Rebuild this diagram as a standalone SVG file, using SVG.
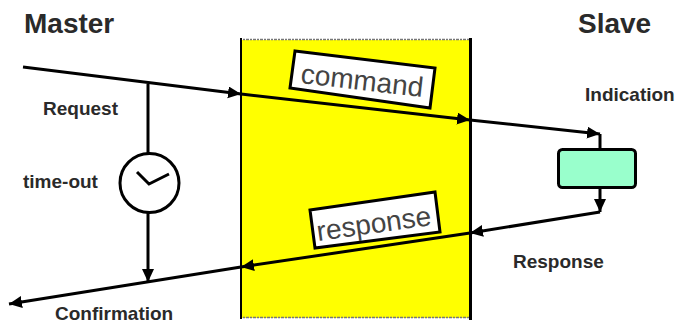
<svg xmlns="http://www.w3.org/2000/svg" width="676" height="324" viewBox="0 0 676 324">
<style>
.b{font-family:"Liberation Sans",Arial,sans-serif;font-weight:700;fill:#2a2a2a}
.s{font-size:19px}
.h{font-size:28px}
.l{font-family:"Liberation Sans",Arial,sans-serif;font-size:28px;fill:#444}
.c{fill:none;stroke:#000;stroke-width:3}
.box{fill:#fff;stroke:#000;stroke-width:3}
</style>
<defs>
<marker id="a" markerUnits="userSpaceOnUse" markerWidth="15" markerHeight="13" refX="13" refY="6" orient="auto"><path d="M0 0L13 6L0 12Z" fill="#000"/></marker>
</defs>
<rect width="676" height="324" fill="#fff"/>
<g id="channel">
<rect x="241" y="40" width="229" height="278" fill="#ff0"/>
<path d="M243 39.500H469M243 317.500H469" stroke="#777" stroke-width="1.500" stroke-dasharray="2 1 3 1" fill="none"/>
<path d="M241 38V319" stroke="#000" stroke-width="2"/>
<path d="M470.500 38V320" stroke="#000" stroke-width="3"/>
</g>
<g id="connectors">
<path class="c" d="M23 67L241 94" marker-end="url(#a)"/>
<path class="c" d="M241 94L470 120" marker-end="url(#a)"/>
<path class="c" d="M470 120L600 134" marker-end="url(#a)"/>
<path class="c" d="M600 134V149"/>
<path class="c" d="M148 84V154"/>
<path class="c" d="M148 212V282" marker-end="url(#a)"/>
<path class="c" d="M600 188V212" marker-end="url(#a)"/>
<path class="c" d="M600 212L470 233" marker-end="url(#a)"/>
<path class="c" d="M470 233L241 267" marker-end="url(#a)"/>
<path class="c" d="M241 267L9 304" marker-end="url(#a)"/>
</g>
<g id="master"><text class="b h" x="24" y="33">Master</text></g>
<g id="slave"><text class="b h" x="578" y="33">Slave</text></g>
<g id="request"><text class="b s" x="43" y="115">Request</text></g>
<g id="indication"><text class="b s" x="585" y="101">Indication</text></g>
<g id="timeout"><text class="b s" x="23" y="188">time-out</text></g>
<g id="response-label"><text class="b s" x="513" y="268">Response</text></g>
<g id="confirmation"><text class="b s" x="55" y="319.500">Confirmation</text></g>
<g id="clock">
<circle cx="149.500" cy="183" r="29.500" fill="#fff" stroke="#000" stroke-width="3"/>
<path class="c" d="M137 172L149 184L169 174"/>
</g>
<g id="slave-box"><rect x="558.500" y="149.500" width="77" height="38" rx="4" fill="#9fc" stroke="#000" stroke-width="3"/></g>
<g id="command">
<path class="box" d="M295 51L435 68L430 108L290 88Z"/>
<text class="l" transform="translate(300 83) rotate(6.500)">command</text>
</g>
<g id="response">
<path class="box" d="M310 210L435 192L440 232L315 248Z"/>
<text class="l" transform="translate(318 241) rotate(-8)">response</text>
</g>
</svg>
